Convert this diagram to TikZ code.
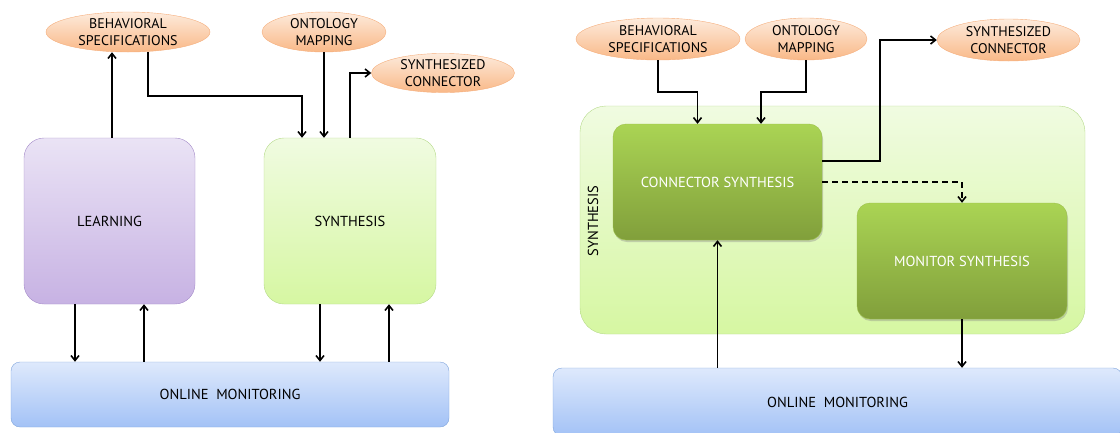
\documentclass[tikz,border=0pt]{standalone}
\usepackage{fontspec}
\setmainfont{PT Sans}
\usepackage{xcolor}
\usepackage{tikz}
\usetikzlibrary{positioning, arrows.meta, calc, shapes.geometric, shadows}
\definecolor{peachtop}{HTML}{FDEBDC}
\definecolor{peachbot}{HTML}{F9B887}
\definecolor{peachline}{HTML}{F5AE7C}
\definecolor{lilactop}{HTML}{EAE3F5}
\definecolor{lilacbot}{HTML}{C7B2E3}
\definecolor{lilacline}{HTML}{A58CC9}
\definecolor{limetop}{HTML}{F0FBE1}
\definecolor{limebot}{HTML}{D6F7A2}
\definecolor{limeline}{HTML}{B6DA8B}
\definecolor{skytop}{HTML}{DEE9FC}
\definecolor{skybot}{HTML}{A3C2F6}
\definecolor{skyline}{HTML}{7FA4DC}
\definecolor{leaftop}{HTML}{AAD454}
\definecolor{leafbot}{HTML}{819F3B}
\definecolor{leafline}{HTML}{9CC04A}

\tikzset{
  blob/.style={ellipse, draw=peachline, top color=peachtop, bottom color=peachbot,
    inner sep=0pt, align=center, font=\fontsize{14}{17.5}\selectfont},
  learnbox/.style={rectangle, rounded corners=20pt, draw=lilacline, top color=lilactop,
    bottom color=lilacbot, font=\fontsize{14.5}{17}\selectfont},
  synbox/.style={rectangle, rounded corners=20pt, draw=limeline, top color=limetop,
    bottom color=limebot, font=\fontsize{14.5}{17}\selectfont},
  monbox/.style={rectangle, rounded corners=9pt, draw=skyline, top color=skytop,
    bottom color=skybot, font=\fontsize{14.5}{17}\selectfont},
  leafbox/.style={rectangle, rounded corners=13pt, draw=leafline, top color=leaftop,
    bottom color=leafbot, text=white, font=\fontsize{14.5}{17}\selectfont,
    drop shadow={opacity=0.35, shadow xshift=1pt, shadow yshift=-2pt}},
  arr/.style={-{Straight Barb[length=5pt, width=8pt]}, line width=1.6pt, black}
}

\begin{document}
\begin{tikzpicture}[x=1pt, y=-1pt]
  \useasboundingbox (0,0) rectangle (1120,432);

  % left panel
  \node[blob, minimum width=164pt, minimum height=40pt] (beh) at (128,32)
    {BEHAVIORAL\\SPECIFICATIONS};
  \node[blob, minimum width=124pt, minimum height=40pt] (ont) at (324,32)
    {ONTOLOGY\\MAPPING};
  \node[blob, minimum width=143pt, minimum height=38pt] (sc) at (443,73)
    {SYNTHESIZED\\CONNECTOR};
  \node[learnbox, minimum width=171pt, minimum height=166pt] (learn) at (109.5,221)
    {LEARNING};
  \node[synbox, minimum width=172pt, minimum height=166pt] (synl) at (350,221)
    {SYNTHESIS};
  \node[monbox, minimum width=438pt, minimum height=65pt] (moni) at (230,394.5)
    {ONLINE\ \ MONITORING};

  \draw[arr] ([xshift=2.5pt]learn.north) -- ([xshift=2.5pt]learn.north |- beh.south);
  \draw[arr] ([xshift=20pt]beh.south) -- ++(0,44) -| ([xshift=-48pt]synl.north);
  \draw[arr] (ont.south) -- (ont.south |- synl.north);
  \draw[arr] (synl.north) |- (sc.west);
  \draw[arr] ([xshift=-34.5pt]learn.south) -- ([xshift=-34.5pt]learn.south |- moni.north);
  \draw[arr] ([xshift=34.5pt]learn.south |- moni.north) -- ([xshift=34.5pt]learn.south);
  \draw[arr] ([xshift=-30pt]synl.south) -- ([xshift=-30pt]synl.south |- moni.north);
  \draw[arr] ([xshift=39pt]synl.south |- moni.north) -- ([xshift=39pt]synl.south);

  % right panel
  \node[synbox, rounded corners=26pt, minimum width=505pt, minimum height=228pt]
    (synr) at (832.5,220) {};
  \node[rotate=90, font=\fontsize{14.5}{17}\selectfont] (synlab) at (593,221) {SYNTHESIS};
  \node[blob, minimum width=164pt, minimum height=42pt] (beh2) at (658,39)
    {BEHAVIORAL\\SPECIFICATIONS};
  \node[blob, minimum width=122pt, minimum height=42pt] (ont2) at (806,39)
    {ONTOLOGY\\MAPPING};
  \node[blob, minimum width=143pt, minimum height=42pt] (sc2) at (1008.5,40)
    {SYNTHESIZED\\CONNECTOR};
  \node[leafbox, minimum width=209pt, minimum height=116pt] (cs) at (717.5,182)
    {CONNECTOR SYNTHESIS};
  \node[leafbox, minimum width=210pt, minimum height=116pt] (ms) at (962,261)
    {MONITOR SYNTHESIS};
  \node[monbox, minimum width=569pt, minimum height=68pt] (moni2) at (837.5,402)
    {ONLINE\ \ MONITORING};

  \draw[arr] (beh2.south) -- ++(0,32) -| ([xshift=-20pt]cs.north);
  \draw[arr] (ont2.south) -- ++(0,32) -| ([xshift=43.5pt]cs.north);
  \draw[arr] ([yshift=21pt]cs.east) -- ++(58,0) |- (sc2.west);
  \draw[arr, dash pattern=on 6pt off 4pt] (cs.east) -| (ms.north);
  \draw[arr] (moni2.north -| cs.south) -- (cs.south);
  \draw[arr] (ms.south) -- (ms.south |- moni2.north);
\end{tikzpicture}
\end{document}
